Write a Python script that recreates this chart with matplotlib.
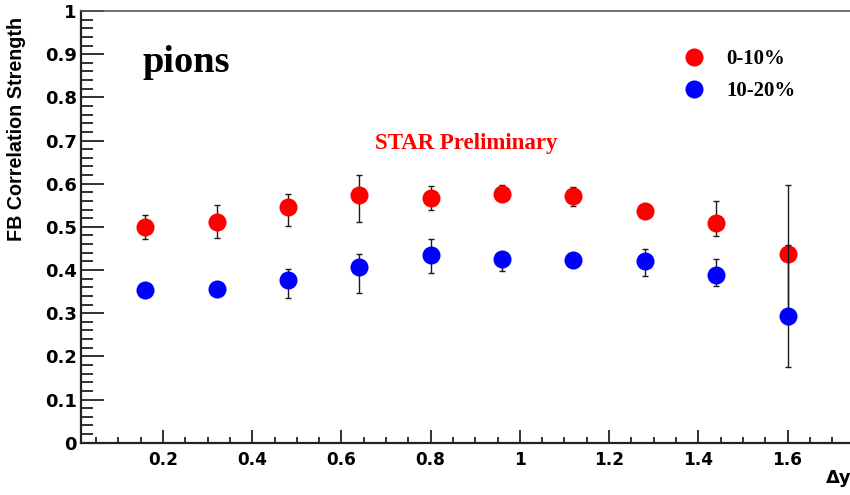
import matplotlib
matplotlib.use("Agg")
import matplotlib.pyplot as plt
from matplotlib.ticker import MultipleLocator
import numpy as np

# ---- data ----
dy = [0.16, 0.32, 0.48, 0.64, 0.80, 0.96, 1.12, 1.28, 1.44, 1.60]
c0_10 = [0.500, 0.512, 0.545, 0.573, 0.566, 0.577, 0.571, 0.537, 0.510, 0.436]
c0_10_err_hi = [0.027, 0.038, 0.031, 0.048, 0.028, 0.020, 0.022, 0.016, 0.050, 0.161]
c0_10_err_lo = [0.028, 0.037, 0.043, 0.062, 0.026, 0.017, 0.023, 0.016, 0.031, 0.160]
c10_20 = [0.354, 0.356, 0.377, 0.406, 0.435, 0.425, 0.424, 0.421, 0.388, 0.294]
c10_20_err_hi = [0.010, 0.010, 0.025, 0.030, 0.036, 0.015, 0.010, 0.027, 0.037, 0.164]
c10_20_err_lo = [0.010, 0.010, 0.041, 0.059, 0.043, 0.027, 0.010, 0.034, 0.025, 0.118]
series_labels = ["0-10%", "10-20%"]
xlabel = "\u0394y"
ylabel = "FB Correlation Strength"

W, H = 850, 495
fig = plt.figure(figsize=(W / 100, H / 100), dpi=100)
x0px, x_right_px = 81, 866
ytop_px, ybot_px = 11, 442.7
ax = fig.add_axes([x0px / W, (H - ybot_px) / H, (x_right_px - x0px) / W, (ybot_px - ytop_px) / H])

ax.set_xlim(0.016, 1.776)
ax.set_ylim(0, 1)

def draw(xv, yv, lo, hi, color, zb, label):
    ax.errorbar(xv, yv, yerr=[lo, hi], fmt="none", ecolor="#1a1a1a",
                elinewidth=1.0, capsize=2.2, capthick=1.0, zorder=zb)
    ax.plot(xv, yv, "o", color=color, markersize=13, markeredgewidth=0,
            zorder=zb + 1, label=label)

draw(dy, c0_10, c0_10_err_lo, c0_10_err_hi, "#ff0000", 2, series_labels[0])
draw(dy, c10_20, c10_20_err_lo, c10_20_err_hi, "#0000ff", 4, series_labels[1])

# axes style (ROOT-like)
for s in ["left", "bottom"]:
    ax.spines[s].set_linewidth(1.6)
    ax.spines[s].set_color("#222222")
ax.spines["top"].set_linewidth(1.2)
ax.spines["top"].set_color("#555555")
ax.spines["right"].set_visible(False)

ax.xaxis.set_major_locator(MultipleLocator(0.2))
ax.xaxis.set_minor_locator(MultipleLocator(0.05))
ax.yaxis.set_major_locator(MultipleLocator(0.1))
ax.yaxis.set_minor_locator(MultipleLocator(0.02))
ax.tick_params(axis="y", which="major", direction="in", length=16.5, width=1.3,
               colors="#222222", pad=3)
ax.tick_params(axis="y", which="minor", direction="in", length=8.5, width=1.3,
               colors="#222222")
ax.tick_params(axis="x", which="major", direction="in", length=9.2, width=1.3,
               colors="#222222", pad=6)
ax.tick_params(axis="x", which="minor", direction="in", length=4.5, width=1.3,
               colors="#222222")
ax.tick_params(labelcolor="black")

def fmt(v, pos):
    s = ("%.1f" % v)
    if s.endswith(".0"):
        s = s[:-2]
    return s

ax.xaxis.set_major_formatter(plt.FuncFormatter(fmt))
ax.yaxis.set_major_formatter(plt.FuncFormatter(fmt))
for lab in ax.get_xticklabels():
    lab.set_fontfamily("DejaVu Sans")
    lab.set_fontweight("bold")
    lab.set_fontsize(12.2)
for lab in ax.get_yticklabels():
    lab.set_fontfamily("DejaVu Sans")
    lab.set_fontweight("bold")
    lab.set_fontsize(13)

# axis titles
fig.text(17 / W, (H - 17) / H, ylabel, rotation=90, ha="center", va="top",
         fontfamily="Liberation Sans", fontweight="bold", fontsize=14.2)
fig.text(826 / W, (H - 483) / H, xlabel, ha="left", va="baseline",
         fontfamily="DejaVu Sans", fontweight="bold", fontsize=13)

# annotations
fig.text(142.7 / W, (H - 71.7) / H, "pions", ha="left", va="baseline",
         fontfamily="Liberation Serif", fontweight="bold", fontsize=27.6)
fig.text(375 / W, (H - 149.5) / H, "STAR Preliminary", ha="left", va="baseline",
         fontfamily="Liberation Serif", fontweight="bold", fontsize=16.5, color="#ff0000")

leg = ax.legend(loc="upper left", bbox_to_anchor=(684 / W, (H - 49) / H),
                bbox_transform=fig.transFigure, frameon=False,
                prop={"family": "Liberation Serif", "weight": "bold", "size": 15},
                handlelength=1.0, handletextpad=1.05, labelspacing=0.6,
                borderpad=0, borderaxespad=0, numpoints=1)

fig.savefig("out.png", dpi=100)
